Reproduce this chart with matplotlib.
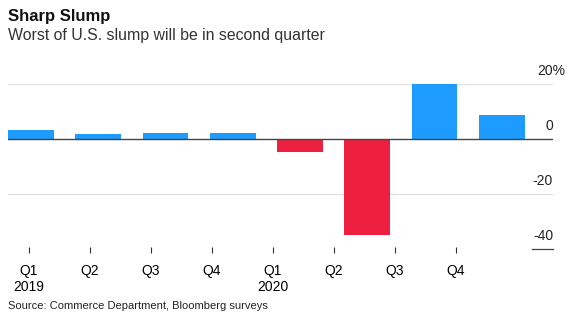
import numpy as np
import matplotlib.pyplot as plt
from matplotlib.transforms import blended_transform_factory, offset_copy

# --- data ---
quarters = ["Q1", "Q2", "Q3", "Q4", "Q1", "Q2", "Q3", "Q4"]
years = ["2019", "", "", "", "2020", "", "", ""]
growth = [3.2, 1.9, 2.3, 2.3, -4.8, -35.0, 20.0, 8.6]
y_ticks = [20, 0, -20, -40]

BLUE = "#1e9bff"
RED = "#ee2040"

plt.rcParams['font.family'] = ['Liberation Sans', 'DejaVu Sans']

fig = plt.figure(figsize=(5.76, 3.34), dpi=100)
ax = fig.add_axes([8 / 576, 1 - 249 / 334, (553 - 8) / 576, (249 - 84) / 334])

x = np.arange(len(growth))
colors = [BLUE if v >= 0 else RED for v in growth]
ax.bar(x, growth, width=0.68, color=colors, zorder=2, clip_on=False)

ax.set_xlim(-0.34, 7.76)
ax.set_ylim(-40, 20)

# gridlines + right side labels
tr = blended_transform_factory(ax.transAxes, ax.transData)
for t in y_ticks:
    if t == 0:
        ax.axhline(0, color="#444444", lw=1.0, zorder=3)
    elif t == -40:
        ax.plot([0.961, 1.0], [t, t], transform=tr, color="#444444", lw=0.9, clip_on=False)
    else:
        ax.axhline(t, color="#e3e3e3", lw=1.0, zorder=1)
    if t == 20:
        # "%" hangs past the right edge
        ax.text(1.0, t + 2.2, "20%", transform=offset_copy(tr, fig=fig, x=12, units="dots"),
                ha="right", va="bottom", fontsize=10, color="#222222")
    else:
        ax.text(1.0, t + 2.2, str(t), transform=tr, ha="right", va="bottom",
                fontsize=10, color="#222222")

for s in ax.spines.values():
    s.set_visible(False)
ax.set_yticks([])

# x tick labels sit on their own spacing, not under the bars
tick_pos = np.arange(len(quarters)) * 0.906 - 0.03
ax.set_xticks(tick_pos)
ax.set_xticklabels([f"{q}\n{y}" if y else q for q, y in zip(quarters, years)],
                   fontsize=10, color="#222222", linespacing=1.35)
for lbl in ax.get_xticklabels():
    lbl.set_verticalalignment("top")
    lbl.set_multialignment("center")
ax.tick_params(axis="x", length=4, width=0.8, color="#333333", pad=8, direction="in")
ax.spines["bottom"].set_position(("outward", 3))

fig.text(8 / 576, 1 - 21 / 334, "Sharp Slump", fontsize=12, fontweight="bold",
         color="#111111", va="baseline")
fig.text(8 / 576, 1 - 40 / 334, "Worst of U.S. slump will be in second quarter",
         fontsize=11.4, color="#333333", va="baseline")
fig.text(8 / 576, 1 - 309 / 334, "Source: Commerce Department, Bloomberg surveys",
         fontsize=8, color="#222222", va="baseline")

fig.savefig("out.png", dpi=100, facecolor="white")
